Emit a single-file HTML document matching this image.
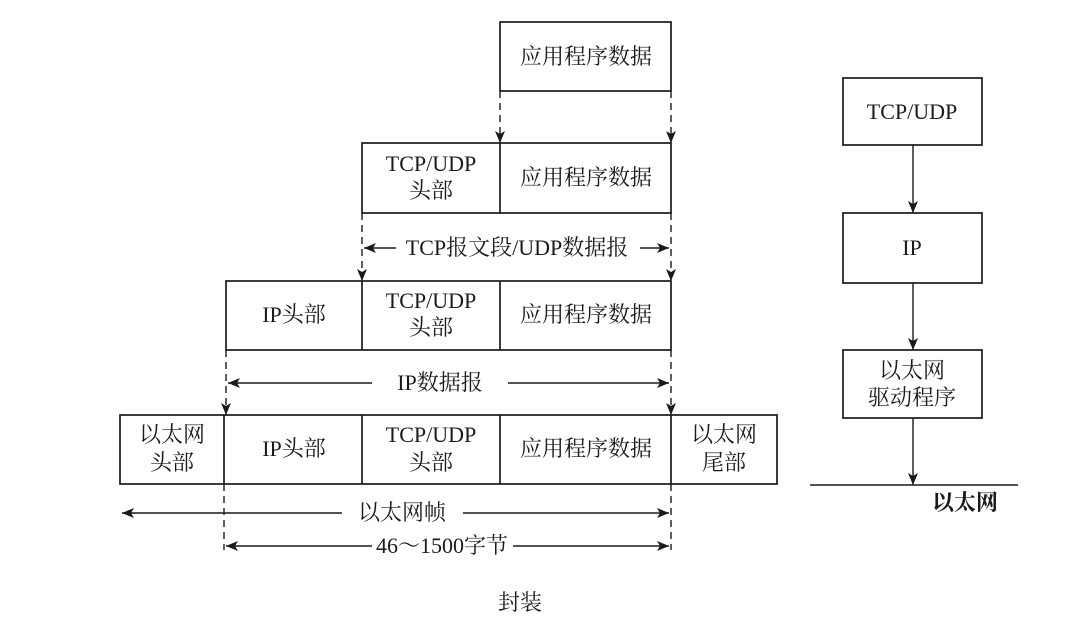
<!DOCTYPE html>
<html><head><meta charset="utf-8"><style>
html,body{margin:0;padding:0;background:#fff;}
svg text{font-family:"Liberation Serif","Noto Serif CJK SC","Noto Sans CJK SC",serif;font-size:22px;fill:#1a1a1a;}
</style></head><body>
<svg width="1090" height="625" viewBox="0 0 1090 625" xmlns="http://www.w3.org/2000/svg">
<defs>
<marker id="a" viewBox="0 0 12 10" refX="12" refY="5" markerWidth="12" markerHeight="10" markerUnits="userSpaceOnUse" orient="auto">
<path d="M0,0 L12,5 L0,10 L3,5 z" fill="#1a1a1a"/></marker>
</defs>
<g stroke="#1a1a1a" stroke-width="1.7" fill="none">
<rect x="500" y="22" width="171" height="69"/>
<rect x="362" y="143" width="309" height="70"/>
<line x1="500" y1="143" x2="500" y2="213"/>
<rect x="226" y="281" width="445" height="69"/>
<line x1="362" y1="281" x2="362" y2="350"/>
<line x1="500" y1="281" x2="500" y2="350"/>
<rect x="120" y="415" width="657" height="69"/>
<line x1="224" y1="415" x2="224" y2="484"/>
<line x1="362" y1="415" x2="362" y2="484"/>
<line x1="500" y1="415" x2="500" y2="484"/>
<line x1="671" y1="415" x2="671" y2="484"/>
</g>
<g stroke="#1a1a1a" stroke-width="1.4" stroke-dasharray="7,5" fill="none">
<line x1="500" y1="91" x2="500" y2="143" marker-end="url(#a)"/>
<line x1="671" y1="91" x2="671" y2="143" marker-end="url(#a)"/>
<line x1="362" y1="213" x2="362" y2="281" marker-end="url(#a)"/>
<line x1="671" y1="213" x2="671" y2="281" marker-end="url(#a)"/>
<line x1="226" y1="350" x2="226" y2="415" marker-end="url(#a)"/>
<line x1="671" y1="350" x2="671" y2="415" marker-end="url(#a)"/>
<line x1="224" y1="484" x2="224" y2="550"/>
<line x1="671" y1="484" x2="671" y2="550"/>
</g>
<g stroke="#1a1a1a" stroke-width="1.4" fill="none">
<line x1="396" y1="248" x2="364" y2="248" marker-end="url(#a)"/>
<line x1="640" y1="248" x2="669" y2="248" marker-end="url(#a)"/>
<line x1="372" y1="383" x2="228" y2="383" marker-end="url(#a)"/>
<line x1="508" y1="383" x2="669" y2="383" marker-end="url(#a)"/>
<line x1="342" y1="513" x2="122" y2="513" marker-end="url(#a)"/>
<line x1="463" y1="513" x2="669" y2="513" marker-end="url(#a)"/>
<line x1="372" y1="546" x2="226" y2="546" marker-end="url(#a)"/>
<line x1="513" y1="546" x2="669" y2="546" marker-end="url(#a)"/>
<rect x="843" y="78" width="139" height="67" stroke-width="1.7"/>
<rect x="843" y="213" width="139" height="70" stroke-width="1.7"/>
<rect x="843" y="350" width="139" height="68" stroke-width="1.7"/>
<line x1="913" y1="145" x2="913" y2="213" marker-end="url(#a)"/>
<line x1="913" y1="283" x2="913" y2="350" marker-end="url(#a)"/>
<line x1="913" y1="418" x2="913" y2="485" marker-end="url(#a)"/>
<line x1="810" y1="485" x2="1018" y2="485"/>
</g>
<g text-anchor="middle">
<text x="586" y="64">应用程序数据</text>
<text x="431" y="171">TCP/UDP</text><text x="431" y="198">头部</text>
<text x="586" y="185">应用程序数据</text>
<text x="517" y="255">TCP报文段/UDP数据报</text>
<text x="294" y="322">IP头部</text>
<text x="431" y="308">TCP/UDP</text><text x="431" y="335">头部</text>
<text x="586" y="322">应用程序数据</text>
<text x="440" y="390">IP数据报</text>
<text x="172" y="442">以太网</text><text x="172" y="470">头部</text>
<text x="294" y="456">IP头部</text>
<text x="431" y="442">TCP/UDP</text><text x="431" y="470">头部</text>
<text x="586" y="456">应用程序数据</text>
<text x="724" y="442">以太网</text><text x="724" y="470">尾部</text>
<text x="402" y="520">以太网帧</text>
<text x="442" y="553">46～1500字节</text>
<text x="520" y="610">封装</text>
<text x="912" y="119">TCP/UDP</text>
<text x="912" y="255">IP</text>
<text x="912" y="378">以太网</text><text x="912" y="405">驱动程序</text>
<text x="965" y="510" font-weight="bold">以太网</text>
</g>
</svg>
</body></html>
